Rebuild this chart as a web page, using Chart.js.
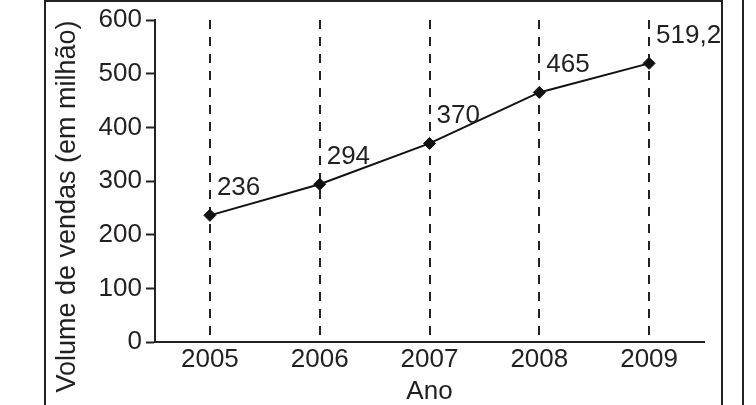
<!DOCTYPE html>
<html>
<head>
<meta charset="utf-8">
<script src="https://cdn.jsdelivr.net/npm/chart.js@4.4.1/dist/chart.umd.min.js"></script>
<style>
    body { margin: 0; background: #fff; }
    #wrap { position: relative; width: 756px; height: 405px; overflow: hidden; }
    .frame { position: absolute; left: 44px; top: 0px; width: 675px; height: 420px;
             border: 2.5px solid #222; border-bottom: none; }
    .edge { position: absolute; left: 742px; top: 0; width: 2px; height: 405px; background: #222; }
    canvas { position: absolute; left: 0; top: 0; }
</style>
</head>
<body>
<div id="wrap">
    <div class="frame"></div>
    <div class="edge"></div>
    <canvas id="myChartVendas" width="756" height="405"></canvas>
</div>
<script>
const INK = '#231f20';
const FONT = "'Liberation Sans', Arial, sans-serif";

let anos    = ['2005', '2006', '2007', '2008', '2009'];
let vendas  = [236, 294, 370, 465, 519.2];
let yTicks  = [0, 100, 200, 300, 400, 500, 600];
let yTitulo = 'Volume de vendas (em milhão)';
let xTitulo = 'Ano';

// rótulos com vírgula decimal
let rotulos = vendas.map(v => String(v).replace('.', ','));

const rotulosPlugin = {
    id: 'rotulos',
    afterDatasetsDraw(chart) {
        const ctx = chart.ctx;
        const meta = chart.getDatasetMeta(0);
        ctx.save();
        ctx.font = '26px ' + FONT;
        ctx.fillStyle = INK;
        ctx.textAlign = 'left';
        ctx.textBaseline = 'alphabetic';
        meta.data.forEach((pt, i) => {
            ctx.fillText(rotulos[i], pt.x + 7, pt.y - 20);
        });
        ctx.restore();
    },
    afterDraw(chart) {
        // título do eixo y, centrado um pouco abaixo da área do gráfico
        const ctx = chart.ctx;
        ctx.save();
        ctx.translate(67.5, 206.5);
        ctx.rotate(-Math.PI / 2);
        ctx.font = '27px ' + FONT;
        ctx.fillStyle = INK;
        ctx.textAlign = 'center';
        ctx.textBaseline = 'middle';
        ctx.fillText(yTitulo, 0, 0);
        ctx.restore();
    }
};

var chartVendas = document.getElementById('myChartVendas').getContext('2d');

let graficoVendas = new Chart(chartVendas, {
    type: 'line',
    data: {
        labels: anos,
        datasets: [{
            label: 'Vendas',
            data: vendas,
            borderColor: '#111',
            borderWidth: 2,
            backgroundColor: '#111',
            pointStyle: 'rectRot',
            pointRadius: 6,
            pointBorderWidth: 1,
            tension: 0,
            fill: false
        }]
    },
    options: {
        responsive: false,
        animation: false,
        layout: {
            padding: { top: 20, right: 52, bottom: 0, left: 0 }
        },
        plugins: {
            legend: { display: false },
            tooltip: { enabled: false }
        },
        scales: {
            x: {
                offset: true,
                afterFit: s => { s.height = 63; },
                grid: {
                    offset: false,
                    color: '#222',
                    lineWidth: 2,
                    drawTicks: false
                },
                border: { display: true, color: '#222', width: 2, dash: [9, 8] },
                ticks: {
                    color: INK,
                    padding: 2,
                    font: { family: FONT, size: 26 }
                },
                title: {
                    display: true,
                    text: xTitulo,
                    color: INK,
                    padding: 0,
                    font: { family: FONT, size: 26, lineHeight: 1 }
                }
            },
            y: {
                min: 0,
                max: 600,
                afterFit: s => { s.width = 155; },
                afterBuildTicks: s => { s.ticks = yTicks.map(v => ({ value: v })); },
                grid: {
                    drawOnChartArea: false,
                    drawTicks: true,
                    tickLength: 9,
                    tickWidth: 2,
                    tickColor: '#222',
                    tickBorderDash: []
                },
                border: { display: true, color: '#222', width: 2 },
                ticks: {
                    color: INK,
                    padding: 4,
                    font: { family: FONT, size: 26 }
                }
            }
        }
    },
    plugins: [rotulosPlugin]
});
</script>
</body>
</html>
